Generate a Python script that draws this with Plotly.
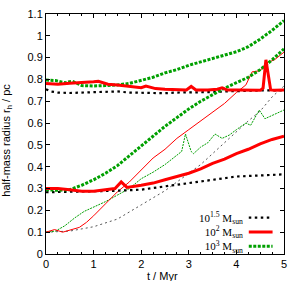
import plotly.graph_objects as go

# ---------------- data ----------------
# 10^1.5 Msun, half-mass radius, outer (initially 0.75 pc)
t_bk_out = [0, 0.1, 0.25, 0.5, 0.75, 1.0, 1.25, 1.5, 1.75, 2.0, 2.25, 2.5, 2.75, 3.0, 3.25, 3.5, 3.75, 4.0, 4.25, 4.5, 4.75, 5.0]
r_bk_out = [0.755, 0.745, 0.74, 0.738, 0.74, 0.742, 0.742, 0.745, 0.74, 0.738, 0.737, 0.737, 0.74, 0.74, 0.74, 0.742, 0.745, 0.748, 0.748, 0.75, 0.75, 0.75]

# 10^2 Msun, outer
t_rd_out = [0, 0.25, 0.5, 0.75, 1.0, 1.1, 1.3, 1.5, 1.75, 2.0, 2.1, 2.3, 2.5, 2.75, 2.95, 3.05, 3.15, 3.4, 3.6, 3.7, 3.8, 4.0, 4.3, 4.5, 4.56, 4.62, 4.72, 4.8, 5.0]
r_rd_out = [0.782, 0.778, 0.783, 0.785, 0.79, 0.792, 0.778, 0.775, 0.768, 0.762, 0.77, 0.758, 0.755, 0.752, 0.752, 0.768, 0.752, 0.752, 0.755, 0.762, 0.752, 0.752, 0.752, 0.75, 0.76, 0.89, 0.752, 0.75, 0.752]

# 10^3 Msun, outer
t_gr_out = [0, 0.2, 0.4, 0.55, 0.75, 1.0, 1.25, 1.5, 1.75, 2.0, 2.25, 2.5, 2.75, 3.0, 3.25, 3.5, 3.75, 4.0, 4.25, 4.5, 4.75, 5.0]
r_gr_out = [0.797, 0.795, 0.785, 0.792, 0.772, 0.77, 0.772, 0.775, 0.782, 0.795, 0.81, 0.83, 0.845, 0.865, 0.88, 0.895, 0.91, 0.927, 0.95, 0.985, 1.025, 1.07]

# inner (initially 0.3 pc)
t_bk_in = [0, 0.5, 1.0, 1.5, 2.0, 2.5, 3.0, 3.5, 4.0, 4.5, 5.0]
r_bk_in = [0.283, 0.285, 0.29, 0.29, 0.295, 0.31, 0.325, 0.34, 0.355, 0.36, 0.365]

t_rd_in = [0, 0.25, 0.5, 0.75, 1.0, 1.25, 1.45, 1.58, 1.7, 2.0, 2.25, 2.5, 2.75, 3.0, 3.25, 3.5, 3.75, 4.0, 4.25, 4.5, 4.75, 5.0]
r_rd_in = [0.30, 0.30, 0.295, 0.288, 0.288, 0.295, 0.30, 0.33, 0.305, 0.315, 0.325, 0.34, 0.355, 0.37, 0.39, 0.415, 0.435, 0.46, 0.48, 0.505, 0.525, 0.54]

t_gr_in = [0, 0.25, 0.5, 0.75, 1.0, 1.25, 1.5, 1.75, 2.0, 2.25, 2.5, 2.75, 3.0, 3.25, 3.5, 3.75, 4.0, 4.25, 4.5, 4.75, 5.0]
r_gr_in = [0.295, 0.292, 0.295, 0.315, 0.34, 0.37, 0.405, 0.45, 0.495, 0.54, 0.585, 0.625, 0.665, 0.70, 0.73, 0.76, 0.785, 0.81, 0.845, 0.89, 0.94]

# thin lines (initially 0.1 pc)
t_bk_thin = [0, 0.5, 1.0, 1.5, 2.0, 2.5, 2.75, 3.0, 3.25, 3.5, 3.75, 4.0, 4.25, 4.5, 4.75, 5.0]
r_bk_thin = [0.10, 0.105, 0.125, 0.16, 0.225, 0.29, 0.33, 0.37, 0.41, 0.46, 0.51, 0.56, 0.61, 0.655, 0.72, 0.77]

t_rd_thin = [0, 0.18, 0.35, 0.5, 0.7, 0.85, 1.0, 1.25, 1.5, 1.75, 2.0, 2.25, 2.5, 2.75, 3.0, 3.25, 3.5, 3.75, 4.0, 4.2, 4.33, 4.5, 4.62, 4.8, 5.0]
r_rd_thin = [0.10, 0.112, 0.10, 0.108, 0.122, 0.145, 0.175, 0.23, 0.285, 0.33, 0.385, 0.44, 0.48, 0.53, 0.57, 0.61, 0.65, 0.69, 0.74, 0.775, 0.835, 0.84, 0.875, 0.89, 0.925]

t_gr_thin = [0, 0.2, 0.4, 0.6, 0.8, 1.0, 1.25, 1.5, 1.75, 2.0, 2.25, 2.5, 2.75, 2.85, 2.93, 3.05, 3.1, 3.25, 3.4, 3.55, 3.7, 3.85, 4.0, 4.2, 4.3, 4.48, 4.6, 4.8, 5.0]
r_gr_thin = [0.10, 0.105, 0.13, 0.165, 0.195, 0.215, 0.24, 0.27, 0.30, 0.345, 0.375, 0.41, 0.45, 0.47, 0.55, 0.47, 0.46, 0.49, 0.51, 0.55, 0.53, 0.545, 0.57, 0.60, 0.59, 0.66, 0.62, 0.64, 0.66]

legend_labels = ["10<sup>1.5</sup> M<sub>sun</sub>", "10<sup>2</sup> M<sub>sun</sub>", "10<sup>3</sup> M<sub>sun</sub>"]
x_ticks = [0, 1, 2, 3, 4, 5]

# ---------------- styles ----------------
BLACK = "#000000"
GRAY = "#555555"
RED = "#ff0000"
GREEN = "#00a000"
BK_DASH = "2.5px,3.5px"
GR_DASH = "3px,1.5px"

fig = go.Figure()

def add(t, r, color, width, dash):
    fig.add_trace(go.Scatter(x=t, y=r, mode="lines", showlegend=False, hoverinfo="skip",
                             line=dict(color=color, width=width, dash=dash)))

# thin lines
add(t_bk_thin, r_bk_thin, GRAY, 1, "2px,3px")
add(t_gr_thin, r_gr_thin, GREEN, 1, "2px,1px")
add(t_rd_thin, r_rd_thin, RED, 1, "solid")
# thick lines
add(t_bk_in, r_bk_in, BLACK, 2.2, BK_DASH)
add(t_bk_out, r_bk_out, BLACK, 2.2, BK_DASH)
add(t_gr_in, r_gr_in, GREEN, 3, GR_DASH)
add(t_gr_out, r_gr_out, GREEN, 3, GR_DASH)
add(t_rd_in, r_rd_in, RED, 3, "solid")
add(t_rd_out, r_rd_out, RED, 3, "solid")

# ---------------- legend (gnuplot style: text left of sample) ----------------
LEG_FONT = 11
row_px = LEG_FONT * 1.3            # plotly line spacing
mid_paper = (254 - 232) / 240.0    # middle row position
row_paper = row_px / 240.0
fig.add_annotation(x=0.835, y=mid_paper, xref="paper", yref="paper",
                   text="<br>".join(legend_labels), showarrow=False,
                   xanchor="right", yanchor="middle", align="right",
                   font=dict(family="Liberation Serif, serif", size=LEG_FONT, color="black"))
leg_colors = [BLACK, RED, GREEN]
leg_dashes = [BK_DASH, "solid", GR_DASH]
leg_widths = [2.2, 3, 3]
for i, (c, d, w) in enumerate(zip(leg_colors, leg_dashes, leg_widths)):
    yy = mid_paper + (1 - i) * row_paper
    fig.add_shape(type="line", xref="paper", yref="paper", x0=0.852, x1=0.952, y0=yy, y1=yy,
                  line=dict(color=c, width=w, dash=d))

# axis titles as annotations
fig.add_annotation(x=-0.165, y=0.475, xref="paper", yref="paper", text="half-mass radius r<sub>h</sub> / pc",
                   showarrow=False, textangle=-90, xanchor="center", yanchor="middle",
                   font=dict(family="Liberation Sans, Arial, sans-serif", size=11, color="black"))
fig.add_annotation(x=0.49, y=-0.092, xref="paper", yref="paper", text="t / Myr",
                   showarrow=False, xanchor="center", yanchor="middle",
                   font=dict(family="Liberation Sans, Arial, sans-serif", size=11, color="black"))

axis_font = dict(family="Liberation Sans, Arial, sans-serif", size=11, color="black")
fig.update_xaxes(range=[0, 5], tickvals=x_ticks, ticks="inside", ticklen=4, tickcolor="black",
                 showline=True, linecolor="black", linewidth=1, mirror="ticks",
                 showgrid=False, zeroline=False, tickfont=axis_font,
                 minor=dict(ticks="inside", dtick=0.25, ticklen=2, tickcolor="black", showgrid=False))
fig.update_yaxes(range=[0, 1.1], dtick=0.1, tick0=0, ticks="inside", ticklen=4, tickcolor="black",
                 showline=True, linecolor="black", linewidth=1, mirror="ticks",
                 showgrid=False, zeroline=False, tickfont=axis_font)

fig.update_layout(width=293, height=281, margin=dict(l=46, r=6, t=14, b=27),
                  plot_bgcolor="white", paper_bgcolor="white", showlegend=False)

fig.write_html("out.html", config={"displayModeBar": False},
               post_script="document.body.style.margin='0';document.body.style.padding='0';"
                           "document.body.style.overflow='hidden';")
